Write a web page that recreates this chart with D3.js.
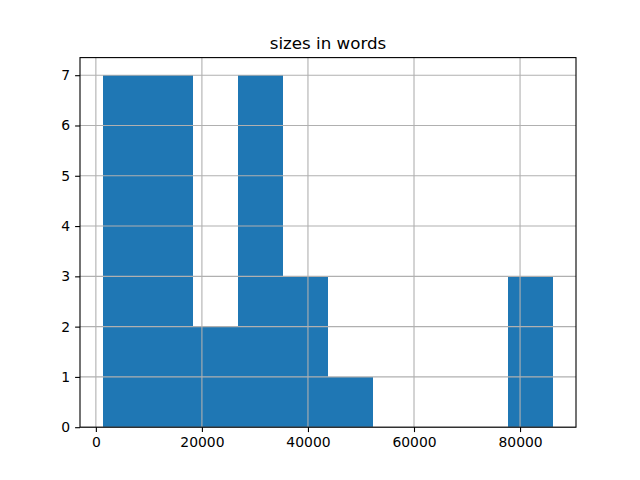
<!DOCTYPE html>
<html>
<head>
<meta charset="utf-8">
<script src="https://cdn.jsdelivr.net/npm/d3@7"></script>
<style>
  body { margin: 0; background: #fff; }
  text { font-family: "DejaVu Sans", sans-serif; fill: #000; }
</style>
</head>
<body>
<script>
// histogram of text sizes (words)
var binEdges = [1260, 9764, 18268, 26772, 35276, 43780, 52284, 60788, 69292, 77796, 86300];
var binCounts = [7, 7, 2, 7, 3, 1, 0, 0, 0, 3];
var xTicks = [0, 20000, 40000, 60000, 80000];
var yTicks = [0, 1, 2, 3, 4, 5, 6, 7];
var chartTitle = "sizes in words";

var margin = {top: 57.6, right: 64, bottom: 52.8, left: 80},
    width = 640 - margin.left - margin.right,
    height = 480 - margin.top - margin.bottom;

// matplotlib style 5% margins on x, top on y
var lo = binEdges[0], hi = binEdges[binEdges.length - 1];
var pad = (hi - lo) * 0.05;
var x = d3.scaleLinear().domain([lo - pad, hi + pad]).range([0, width]);
var yMax = d3.max(binCounts);
var y = d3.scaleLinear().domain([0, yMax * 1.05]).range([height, 0]);

var svg = d3.select("body").append("svg")
    .attr("width", 640)
    .attr("height", 480);

var g = svg.append("g")
    .attr("transform", "translate(" + margin.left + "," + margin.top + ")");

// bars
g.selectAll(".bar")
    .data(binCounts)
    .enter().append("rect")
    .attr("class", "bar")
    .attr("x", function(d, i) { return x(binEdges[i]); })
    .attr("width", function(d, i) { return x(binEdges[i + 1]) - x(binEdges[i]); })
    .attr("y", function(d) { return y(d); })
    .attr("height", function(d) { return height - y(d); })
    .attr("fill", "#1f77b4")
    .attr("shape-rendering", "crispEdges");

// grid (on top of bars, like matplotlib)
g.selectAll(".vgrid")
    .data(xTicks)
    .enter().append("line")
    .attr("x1", function(d) { return x(d); })
    .attr("x2", function(d) { return x(d); })
    .attr("y1", 0).attr("y2", height)
    .attr("stroke", "#b0b0b0").attr("stroke-width", 1.1);

g.selectAll(".hgrid")
    .data(yTicks)
    .enter().append("line")
    .attr("x1", 0).attr("x2", width)
    .attr("y1", function(d) { return y(d); })
    .attr("y2", function(d) { return y(d); })
    .attr("stroke", "#b0b0b0").attr("stroke-width", 1.1);

// axes
var xAxis = g.append("g")
    .attr("transform", "translate(0," + height + ")")
    .call(d3.axisBottom(x).tickValues(xTicks).tickFormat(d3.format("d"))
      .tickSizeOuter(0).tickSize(4.9).tickPadding(4.9));

var yAxis = g.append("g")
    .call(d3.axisLeft(y).tickValues(yTicks).tickFormat(d3.format("d"))
      .tickSizeOuter(0).tickSize(4.9).tickPadding(4.9));

[xAxis, yAxis].forEach(function(a) {
  a.select(".domain").remove();
  a.selectAll(".tick line").attr("stroke", "#000").attr("stroke-width", 1.1);
  a.selectAll(".tick text")
    .style("font-family", "DejaVu Sans")
    .style("font-size", "13.9px")
    .attr("fill", "#000");
});

// spines
g.append("rect")
    .attr("width", width).attr("height", height)
    .attr("fill", "none")
    .attr("stroke", "#000").attr("stroke-width", 1.1);

// title
g.append("text")
    .attr("x", width / 2)
    .attr("y", -8.3)
    .attr("text-anchor", "middle")
    .style("font-size", "16.7px")
    .text(chartTitle);
</script>
</body>
</html>
